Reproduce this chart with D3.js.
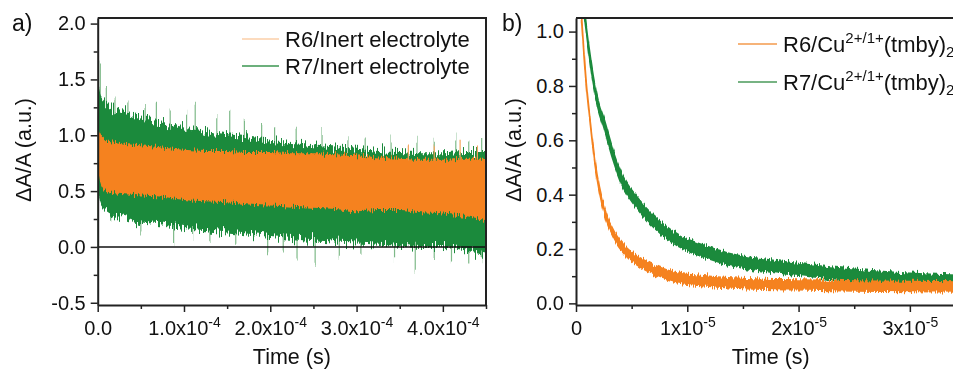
<!DOCTYPE html>
<html>
<head>
<meta charset="utf-8">
<script src="https://cdn.jsdelivr.net/npm/d3@7"></script>
<style>
  body { margin: 0; background: #fff; }
  svg { display: block; }
</style>
</head>
<body>
<div id="chart"></div>
<script>
// ---- panel a: transient absorption, inert electrolyte (time in units of 1e-4 s)
const tA    = [0, 0.01, 0.03, 0.06, 0.1, 0.2, 0.35, 0.5, 0.75, 1.0, 1.25, 1.5, 1.75, 2.0, 2.25, 2.5, 2.75, 3.0, 3.25, 3.5, 3.75, 4.0, 4.25, 4.5];
const r6Top = [2.00, 1.06, 1.02, 0.99, 0.96, 0.94, 0.92, 0.91, 0.89, 0.87, 0.86, 0.86, 0.85, 0.85, 0.84, 0.84, 0.83, 0.82, 0.80, 0.79, 0.78, 0.78, 0.79, 0.79];
const r6Bot = [-0.30, 0.64, 0.57, 0.52, 0.50, 0.48, 0.47, 0.46, 0.45, 0.42, 0.41, 0.40, 0.38, 0.37, 0.36, 0.35, 0.34, 0.32, 0.33, 0.33, 0.31, 0.30, 0.28, 0.24];
const r7Top = [1.10, 1.42, 1.36, 1.32, 1.29, 1.24, 1.20, 1.16, 1.12, 1.07, 1.03, 1.00, 0.98, 0.95, 0.93, 0.91, 0.89, 0.88, 0.86, 0.85, 0.84, 0.84, 0.85, 0.85];
const r7Bot = [-0.50, 0.46, 0.40, 0.36, 0.33, 0.29, 0.26, 0.22, 0.20, 0.17, 0.15, 0.13, 0.11, 0.09, 0.07, 0.05, 0.04, 0.03, 0.02, 0.01, 0.00, 0.00, -0.03, -0.08];

// tallest noise spikes of R7 (time, tip value)
const r7SpikeT = [0.03, 0.1, 0.2, 0.35, 0.55, 0.68, 0.84, 1.03, 1.13, 1.38, 1.53, 1.7, 1.9, 2.05, 2.3, 2.6, 2.9, 3.1, 3.4, 3.7, 3.9, 4.15, 4.3, 4.45,
                  0.15, 0.5, 0.88, 1.1, 1.3, 1.6, 1.97, 2.15, 2.31, 2.52, 2.8, 3.05, 3.44, 3.68, 3.9, 4.1, 4.3, 4.45];
const r7SpikeV = [1.67, 1.45, 1.33, 1.32, 1.28, 1.29, 1.24, 1.22, 1.29, 1.17, 1.22, 1.15, 1.10, 1.08, 1.05, 1.02, 1.00, 0.97, 0.98, 0.96, 0.95, 0.98, 0.97, 0.93,
                  0.28, 0.12, 0.045, 0.07, 0.05, 0.02, -0.075, -0.05, -0.13, -0.16, -0.07, -0.08, -0.12, -0.25, -0.10, -0.14, -0.13, -0.12];
const r6SpikeT = [3.6, 3.9, 4.2, 4.4];
const r6SpikeV = [0.90, 0.92, 0.95, 0.90];

// ---- panel b: with Cu2+/1+(tmby)2 (time in units of 1e-5 s)
const tB6   = [0.05, 0.09, 0.13, 0.17, 0.21, 0.27, 0.35, 0.45, 0.6, 0.75, 0.9, 1.1, 1.4, 1.7, 2.0, 2.5, 3.0, 3.5];
const r6B   = [1.05, 0.82, 0.66, 0.52, 0.42, 0.32, 0.245, 0.19, 0.145, 0.115, 0.095, 0.085, 0.075, 0.07, 0.068, 0.064, 0.062, 0.06];
const r6BNz = [0.004, 0.005, 0.006, 0.008, 0.01, 0.012, 0.014, 0.016, 0.017, 0.018, 0.018, 0.018, 0.018, 0.018, 0.018, 0.018, 0.018, 0.018];
const tB7   = [0.08, 0.12, 0.16, 0.2, 0.25, 0.33, 0.42, 0.54, 0.7, 0.85, 1.0, 1.2, 1.4, 1.7, 2.0, 2.5, 3.0, 3.5];
const r7B   = [1.05, 0.92, 0.81, 0.73, 0.665, 0.55, 0.45, 0.375, 0.30, 0.25, 0.215, 0.185, 0.16, 0.14, 0.125, 0.105, 0.09, 0.082];
const r7BNz = [0.006, 0.008, 0.01, 0.012, 0.014, 0.016, 0.018, 0.02, 0.02, 0.021, 0.021, 0.021, 0.021, 0.021, 0.021, 0.02, 0.02, 0.02];

// ticks
const yTicksA = [-0.5, 0, 0.5, 1.0, 1.5, 2.0];
const yMinorA = [-0.25, 0.25, 0.75, 1.25, 1.75];
const xTicksA = [0, 1, 2, 3, 4];
const xMinorA = [0.5, 1.5, 2.5, 3.5, 4.5];
const yTicksB = [0, 0.2, 0.4, 0.6, 0.8, 1.0];
const yMinorB = [0.1, 0.3, 0.5, 0.7, 0.9];
const xTicksB = [0, 1, 2, 3];
const xMinorB = [0.5, 1.5, 2.5, 3.5];

const legendA = ["R6/Inert electrolyte", "R7/Inert electrolyte"];
const legendB = ["R6", "R7"];

const FONT = "'Liberation Sans', Arial, sans-serif";
const ORANGE = "#f5821f";
const GREEN = "#1b8a3c";
const INK = "#222";

const svg = d3.select("#chart").append("svg")
  .attr("width", 953).attr("height", 371)
  .style("font-family", FONT);

const defs = svg.append("defs");
defs.append("clipPath").attr("id", "clipA").append("rect")
  .attr("x", 97.7).attr("y", 18).attr("width", 388.3).attr("height", 287);
defs.append("clipPath").attr("id", "clipB").append("rect")
  .attr("x", 576).attr("y", 18).attr("width", 400).attr("height", 287);

// rough edge for the noisy traces (vertical displacement only)
function roughFilter(id, scale, seed) {
  const f = defs.append("filter").attr("id", id)
    .attr("x", "-2%").attr("y", "-10%").attr("width", "104%").attr("height", "120%")
    .attr("color-interpolation-filters", "sRGB");
  f.append("feTurbulence").attr("type", "fractalNoise")
    .attr("baseFrequency", "0.9 0.02").attr("numOctaves", 2).attr("seed", seed).attr("result", "n");
  f.append("feColorMatrix").attr("in", "n").attr("type", "matrix")
    .attr("values", "1 0 0 0 0  0 0 0 0 0.5  0 0 0 0 0  0 0 0 0 1").attr("result", "m");
  f.append("feDisplacementMap").attr("in", "SourceGraphic").attr("in2", "m")
    .attr("scale", scale).attr("xChannelSelector", "G").attr("yChannelSelector", "R");
}
roughFilter("roughA7", 24, 4);
roughFilter("roughA6", 12, 9);
roughFilter("roughB", 9, 4);

function styleAxis(g) {
  g.attr("font-size", 20).attr("font-family", FONT);
  g.select(".domain").attr("stroke", INK).attr("stroke-width", 2);
  g.selectAll(".tick line").attr("stroke", INK).attr("stroke-width", 1.5);
  g.selectAll(".tick text").attr("fill", "#111");
}

function minorAxis(g) {
  g.select(".domain").remove();
  g.selectAll(".tick line").attr("stroke", INK).attr("stroke-width", 1.5);
}

function sciLabels(g, zero, mant, exp) {
  g.selectAll(".tick text").each(function (d) {
    const t = d3.select(this).text(null);
    if (d === 0) { t.text(zero); return; }
    t.append("tspan").text(mant(d) + "x10");
    t.append("tspan").attr("font-size", 14).attr("dy", -8).text(exp);
  });
}

// ================= panel a =================
const xA = d3.scaleLinear().domain([0, 4.5]).range([97.7, 486]);
const yA = d3.scaleLinear().domain([-0.52, 2.05]).range([305, 18]);

const plotA = svg.append("g").attr("clip-path", "url(#clipA)");
const trace7 = plotA.append("g").attr("filter", "url(#roughA7)");
const trace6 = plotA.append("g").attr("filter", "url(#roughA6)");

const areaA = (top, bot) => d3.area()
  .x((d, i) => xA(tA[i]))
  .y0((d, i) => yA(bot[i]))
  .y1((d, i) => yA(top[i]))
  .curve(d3.curveMonotoneX)(tA);

// R7: spikes below the band
trace7.selectAll(".spike7").data(r7SpikeT).join("line")
  .attr("x1", d => xA(d)).attr("x2", d => xA(d))
  .attr("y1", yA(0.6)).attr("y2", (d, i) => yA(r7SpikeV[i]))
  .attr("stroke", "#5ea86b").attr("stroke-width", 1.2).attr("opacity", 0.8);
trace7.append("path").attr("d", areaA(r7Top, r7Bot)).attr("fill", GREEN);

// R6 on top
trace6.selectAll(".spike6").data(r6SpikeT).join("line")
  .attr("x1", d => xA(d)).attr("x2", d => xA(d))
  .attr("y1", yA(0.6)).attr("y2", (d, i) => yA(r6SpikeV[i]))
  .attr("stroke", "#f6a55c").attr("stroke-width", 1.2);
trace6.append("path").attr("d", areaA(r6Top, r6Bot)).attr("fill", ORANGE);

// zero line
svg.append("line")
  .attr("x1", xA(0)).attr("x2", xA(4.5)).attr("y1", yA(0)).attr("y2", yA(0))
  .attr("stroke", "#111").attr("stroke-width", 1.5);

// frame
svg.append("path")
  .attr("d", `M${xA(0)},18H${xA(4.5)}V305`)
  .attr("fill", "none").attr("stroke", INK).attr("stroke-width", 2);

svg.append("g").attr("transform", "translate(97.7,0)")
  .call(d3.axisLeft(yA).tickValues(yMinorA).tickSize(4).tickFormat(""))
  .call(minorAxis);
svg.append("g").attr("transform", "translate(97.7,0)")
  .call(d3.axisLeft(yA).tickValues(yTicksA).tickSize(7).tickPadding(5).tickSizeOuter(0)
    .tickFormat(d => d.toFixed(1).replace("\u2212", "-")))
  .call(styleAxis);

svg.append("g").attr("transform", "translate(0,305)")
  .call(d3.axisBottom(xA).tickValues(xMinorA).tickSize(4).tickFormat(""))
  .call(minorAxis);
svg.append("g").attr("transform", "translate(0,305)")
  .call(d3.axisBottom(xA).tickValues(xTicksA).tickSize(7).tickPadding(9).tickSizeOuter(0))
  .call(styleAxis)
  .call(g => sciLabels(g, "0.0", d => d.toFixed(1), "-4"));

svg.append("text")
  .attr("transform", "translate(31,150) rotate(-90)")
  .attr("text-anchor", "middle").attr("font-size", 21.5).attr("fill", "#111")
  .text("\u0394A/A (a.u.)");
svg.append("text")
  .attr("x", (xA(0) + xA(4.5)) / 2).attr("y", 364)
  .attr("text-anchor", "middle").attr("font-size", 21.5).attr("fill", "#111")
  .text("Time (s)");
svg.append("text").attr("x", 12).attr("y", 31)
  .attr("font-size", 23).attr("fill", "#111").text("a)");

// legend a
const legA = svg.append("g");
legendA.forEach((name, i) => {
  const y = 39 + i * 27;
  legA.append("line").attr("x1", 242).attr("x2", 279).attr("y1", y).attr("y2", y)
    .attr("stroke", i === 0 ? "#fbcfa8" : "#3b9650").attr("stroke-width", 1.5);
  legA.append("text").attr("x", 285).attr("y", y + 7.5)
    .attr("font-size", 22).attr("fill", "#111").text(name);
});

// ================= panel b =================
const xB = d3.scaleLinear().domain([0, 3.5]).range([576, 965.5]);
const yB = d3.scaleLinear().domain([-0.006, 1.05]).range([305, 18]);

const plotB = svg.append("g").attr("clip-path", "url(#clipB)");
const traceB = plotB.append("g").attr("filter", "url(#roughB)");

const bandB = (ts, vs, nz) => d3.area()
  .x((d, i) => xB(ts[i]))
  .y0((d, i) => yB(vs[i] - nz[i]))
  .y1((d, i) => yB(vs[i] + nz[i]))
  .curve(d3.curveMonotoneX)(ts);

traceB.append("path").attr("d", bandB(tB7, r7B, r7BNz))
  .attr("fill", GREEN).attr("stroke", GREEN).attr("stroke-width", 2);
traceB.append("path").attr("d", bandB(tB6, r6B, r6BNz))
  .attr("fill", ORANGE).attr("stroke", ORANGE).attr("stroke-width", 1.6);

svg.append("line").attr("x1", 576).attr("x2", 953).attr("y1", 18).attr("y2", 18)
  .attr("stroke", INK).attr("stroke-width", 2);

svg.append("g").attr("transform", "translate(576,0)")
  .call(d3.axisLeft(yB).tickValues(yMinorB).tickSize(4).tickFormat(""))
  .call(minorAxis);
svg.append("g").attr("transform", "translate(576,0)")
  .call(d3.axisLeft(yB).tickValues(yTicksB).tickSize(7).tickPadding(5).tickSizeOuter(0)
    .tickFormat(d => d.toFixed(1)))
  .call(styleAxis);

svg.append("g").attr("transform", "translate(0,305)")
  .call(d3.axisBottom(xB).tickValues(xMinorB).tickSize(4).tickFormat(""))
  .call(minorAxis);
svg.append("g").attr("transform", "translate(0,305)")
  .call(d3.axisBottom(xB).tickValues(xTicksB).tickSize(7).tickPadding(9).tickSizeOuter(0))
  .call(styleAxis)
  .call(g => sciLabels(g, "0", d => String(d), "-5"));

svg.append("text")
  .attr("transform", "translate(521,150) rotate(-90)")
  .attr("text-anchor", "middle").attr("font-size", 21.5).attr("fill", "#111")
  .text("\u0394A/A (a.u.)");
svg.append("text")
  .attr("x", (xB(0) + xB(3.5)) / 2).attr("y", 364)
  .attr("text-anchor", "middle").attr("font-size", 21.5).attr("fill", "#111")
  .text("Time (s)");
svg.append("text").attr("x", 502).attr("y", 31)
  .attr("font-size", 23).attr("fill", "#111").text("b)");

// legend b
const legB = svg.append("g");
legendB.forEach((name, i) => {
  const y = 44 + i * 38;
  legB.append("line").attr("x1", 738).attr("x2", 777).attr("y1", y).attr("y2", y)
    .attr("stroke", i === 0 ? "#f39a4c" : "#4a9a5a").attr("stroke-width", 1.5);
  const t = legB.append("text").attr("x", 783).attr("y", y + 8)
    .attr("font-size", 22).attr("fill", "#111");
  t.append("tspan").text(name + "/Cu");
  t.append("tspan").attr("font-size", 15).attr("dy", -9).text("2+/1+");
  t.append("tspan").attr("dy", 9).text("(tmby)");
  t.append("tspan").attr("font-size", 15).attr("dy", 5).text("2");
});
</script>
</body>
</html>
